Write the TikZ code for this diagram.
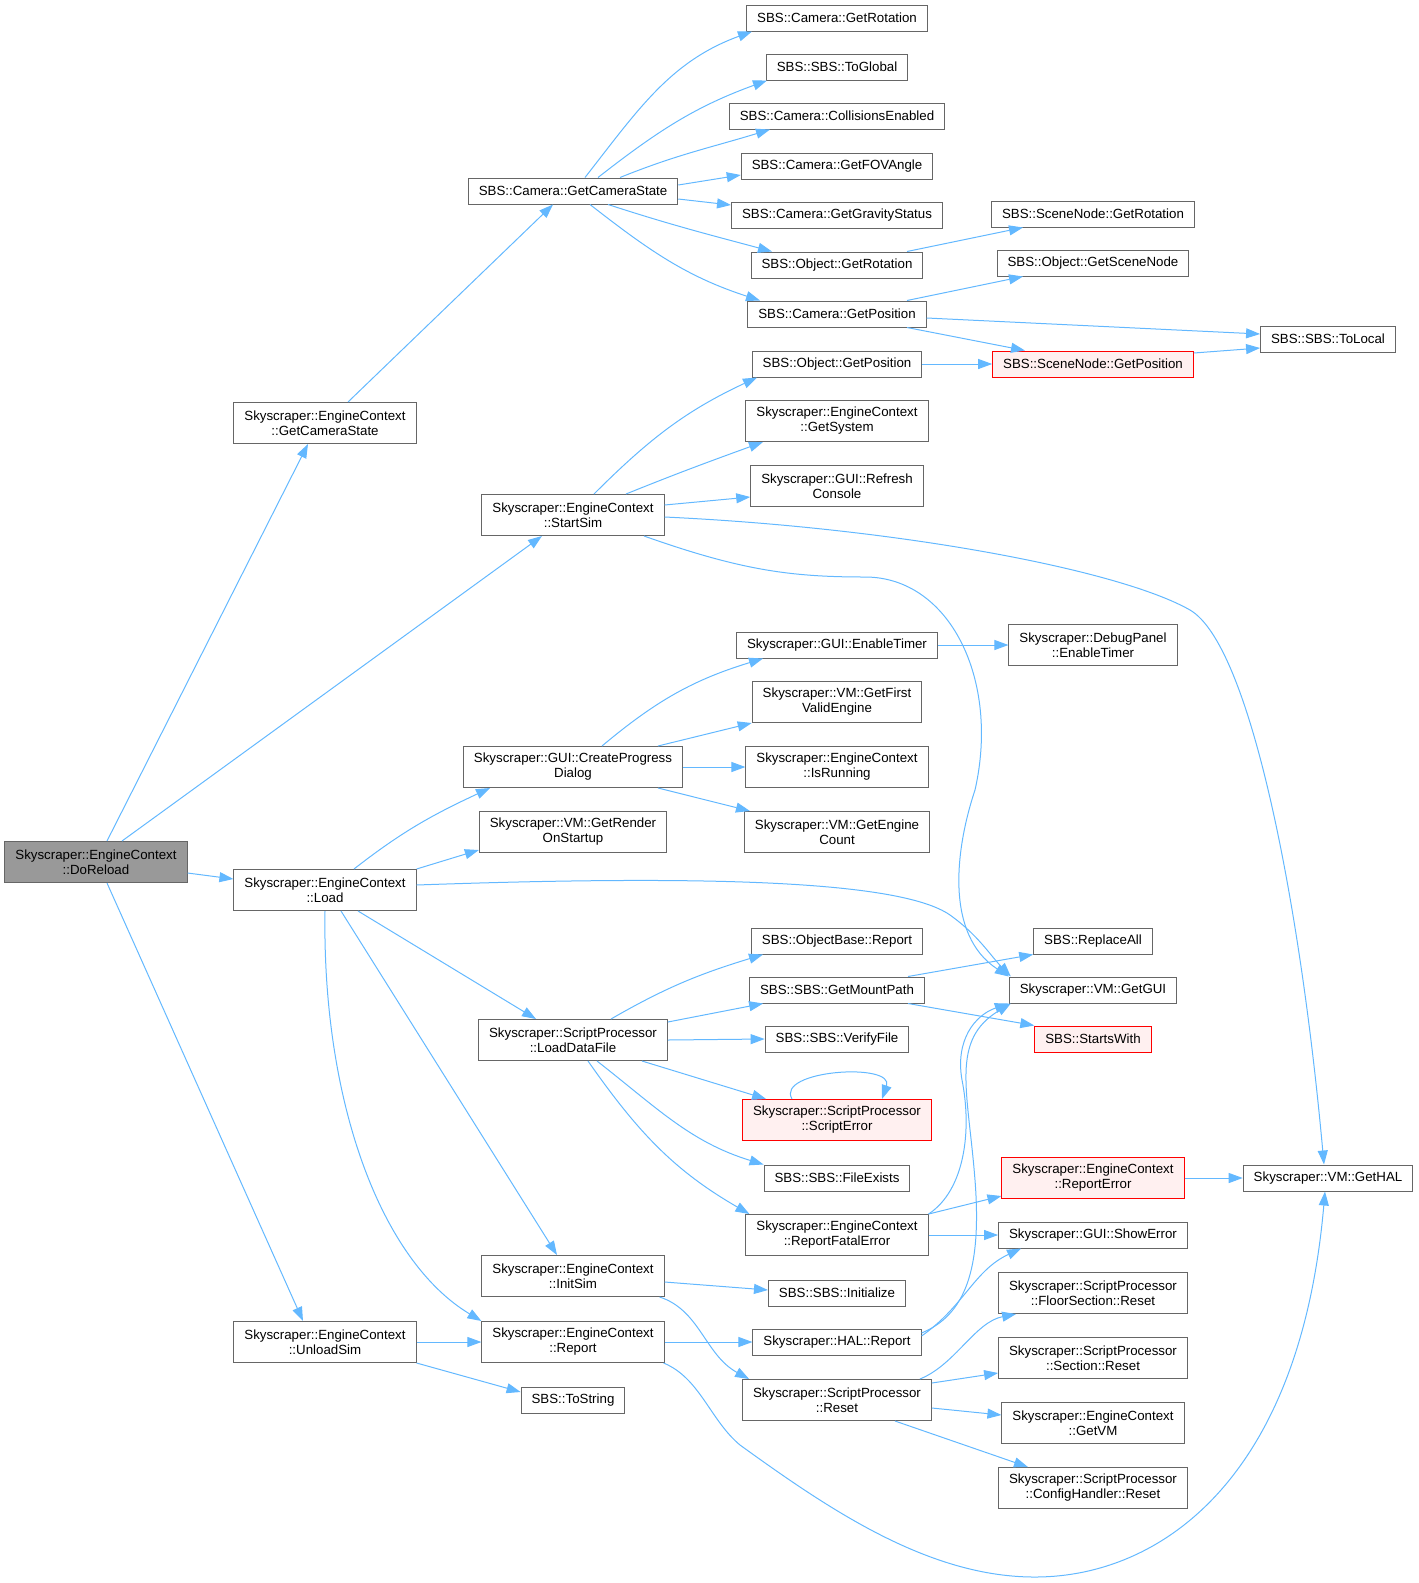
\documentclass[tikz,border=0pt]{standalone}
\usepackage{fontspec}
\setmainfont{Liberation Sans}
\usetikzlibrary{arrows.meta}
\definecolor{callblue}{HTML}{63B8FF}
\definecolor{boxgray}{HTML}{666666}
\definecolor{rootgray}{HTML}{999999}
\definecolor{cutfill}{HTML}{FFF0F0}
\tikzset{
	box/.style={draw=boxgray,fill=white,line width=1pt,align=center,inner xsep=10.5pt,inner ysep=0pt,minimum height=26pt,font=\fontsize{13.3}{15}\selectfont},
	two/.style={box,minimum height=41pt},
	root/.style={two,fill=rootgray},
	cut/.style={draw=red,fill=cutfill},
	call/.style={draw=callblue,line width=1pt,-{Triangle[length=14pt,width=10pt]}}
}
\begin{document}
\begin{tikzpicture}[x=1pt,y=-1pt]
	\useasboundingbox (0,0) rectangle (1419,1583);
	\node[root] (doreload) at (96,862) {Skyscraper::EngineContext\\::DoReload};
	\node[two] (eccam) at (325,423) {Skyscraper::EngineContext\\::GetCameraState};
	\node[two] (load) at (325,890) {Skyscraper::EngineContext\\::Load};
	\node[two] (unloadsim) at (325,1342) {Skyscraper::EngineContext\\::UnloadSim};
	\node[box] (camstate) at (573,191) {SBS::Camera::GetCameraState};
	\node[two] (startsim) at (573,515) {Skyscraper::EngineContext\\::StartSim};
	\node[two] (progress) at (573,767) {Skyscraper::GUI::CreateProgress\\Dialog};
	\node[two] (render) at (573,832) {Skyscraper::VM::GetRender\\OnStartup};
	\node[two] (loaddata) at (573,1040) {Skyscraper::ScriptProcessor\\::LoadDataFile};
	\node[two] (initsim) at (573,1276) {Skyscraper::EngineContext\\::InitSim};
	\node[two] (ecreport) at (573,1342) {Skyscraper::EngineContext\\::Report};
	\node[box] (tostring) at (573,1400) {SBS::ToString};
	\node[box] (camrot) at (837,18) {SBS::Camera::GetRotation};
	\node[box] (toglobal) at (837,67) {SBS::SBS::ToGlobal};
	\node[box] (collisions) at (837,116) {SBS::Camera::CollisionsEnabled};
	\node[box] (fov) at (837,166) {SBS::Camera::GetFOVAngle};
	\node[box] (gravity) at (837,215) {SBS::Camera::GetGravityStatus};
	\node[box] (objrot) at (837,265) {SBS::Object::GetRotation};
	\node[box] (campos) at (837,314) {SBS::Camera::GetPosition};
	\node[box] (objpos) at (837,364) {SBS::Object::GetPosition};
	\node[two] (getsystem) at (837,421) {Skyscraper::EngineContext\\::GetSystem};
	\node[two] (refresh) at (837,486) {Skyscraper::GUI::Refresh\\Console};
	\node[box] (guitimer) at (837,645) {Skyscraper::GUI::EnableTimer};
	\node[two] (firstvalid) at (837,702) {Skyscraper::VM::GetFirst\\ValidEngine};
	\node[two] (isrunning) at (837,767) {Skyscraper::EngineContext\\::IsRunning};
	\node[two] (enginecount) at (837,832) {Skyscraper::VM::GetEngine\\Count};
	\node[box] (obreport) at (837,941) {SBS::ObjectBase::Report};
	\node[box] (mountpath) at (837,990) {SBS::SBS::GetMountPath};
	\node[box] (verifyfile) at (837,1039) {SBS::SBS::VerifyFile};
	\node[two,cut] (scripterror) at (837,1120) {Skyscraper::ScriptProcessor\\::ScriptError};
	\node[box] (fileexists) at (837,1178) {SBS::SBS::FileExists};
	\node[two] (fatalerror) at (837,1235) {Skyscraper::EngineContext\\::ReportFatalError};
	\node[box] (initialize) at (837,1293) {SBS::SBS::Initialize};
	\node[box] (halreport) at (837,1342) {Skyscraper::HAL::Report};
	\node[two] (spreset) at (837,1400) {Skyscraper::ScriptProcessor\\::Reset};
	\node[box] (snrot) at (1093,214) {SBS::SceneNode::GetRotation};
	\node[box] (scenenode) at (1093,263) {SBS::Object::GetSceneNode};
	\node[box,cut] (snpos) at (1093,364) {SBS::SceneNode::GetPosition};
	\node[two] (dptimer) at (1093,645) {Skyscraper::DebugPanel\\::EnableTimer};
	\node[box] (replaceall) at (1093,941) {SBS::ReplaceAll};
	\node[box] (getgui) at (1093,990) {Skyscraper::VM::GetGUI};
	\node[box,cut] (startswith) at (1093,1039) {SBS::StartsWith};
	\node[two,cut] (reporterror) at (1093,1178) {Skyscraper::EngineContext\\::ReportError};
	\node[box] (showerror) at (1093,1235) {Skyscraper::GUI::ShowError};
	\node[two] (floorreset) at (1093,1293) {Skyscraper::ScriptProcessor\\::FloorSection::Reset};
	\node[two] (sectionreset) at (1093,1358) {Skyscraper::ScriptProcessor\\::Section::Reset};
	\node[two] (getvm) at (1093,1423) {Skyscraper::EngineContext\\::GetVM};
	\node[two] (configreset) at (1093,1488) {Skyscraper::ScriptProcessor\\::ConfigHandler::Reset};
	\node[box] (tolocal) at (1328,339) {SBS::SBS::ToLocal};
	\node[box] (gethal) at (1328,1178) {Skyscraper::VM::GetHAL};

	\draw[call] ([xshift=11]doreload.north) -- ([xshift=-17]eccam.south);
	\draw[call] ([xshift=26]doreload.north) -- ([xshift=-31]startsim.south);
	\draw[call] ([yshift=-11]doreload.east) -- ([yshift=11]load.west);
	\draw[call] ([xshift=11]doreload.south) -- ([xshift=-22]unloadsim.north);

	\draw[call] ([xshift=23]eccam.north) -- ([xshift=-20]camstate.south);
	\draw[call] ([xshift=12]camstate.north) to[out=52,in=200] ([xshift=-85]camrot.south);
	\draw[call] ([xshift=25]camstate.north) to[out=38,in=200] ([xshift=-70]toglobal.south);
	\draw[call] ([xshift=47]camstate.north) to[out=22,in=197] ([xshift=-67]collisions.south);
	\draw[call] ([yshift=6]camstate.east) -- ([yshift=-9]fov.west);
	\draw[call] ([yshift=-8]camstate.east) -- ([yshift=10]gravity.west);
	\draw[call] ([xshift=35]camstate.south) to[out=-18,in=165] ([xshift=-65]objrot.north);
	\draw[call] ([xshift=17]camstate.south) to[out=-38,in=162] ([xshift=-77]campos.north);
	\draw[call] ([xshift=70]objrot.north) -- ([xshift=-70]snrot.south);
	\draw[call] ([xshift=70]campos.north) -- ([xshift=-70]scenenode.south);
	\draw[call] ([yshift=-4]campos.east) -- ([yshift=5]tolocal.west);
	\draw[call] ([xshift=70]campos.south) -- ([xshift=-68]snpos.north);
	\draw[call] ([yshift=11]snpos.east) -- ([yshift=-9]tolocal.west);
	\draw[call] (objpos.east) -- (snpos.west);

	\draw[call] ([xshift=21]startsim.north) to[out=45,in=205] ([xshift=-80]objpos.south);
	\draw[call] ([xshift=53]startsim.north) to[out=22,in=200] ([xshift=-74]getsystem.south);
	\draw[call] ([yshift=10]startsim.east) -- ([yshift=-11]refresh.west);
	\draw[call] ([yshift=-2]startsim.east) .. controls (900,528) and (1120,570) .. (1190,610) .. controls (1250,645) and (1300,900) .. ([xshift=-4]gethal.north);
	\draw[call] ([xshift=71]startsim.south) .. controls (740,570) and (790,577) .. (865,577) .. controls (950,577) and (1000,680) .. (975,790) .. controls (955,850) and (945,935) .. (getgui.north west);

	\draw[call] ([xshift=29]load.north) to[out=38,in=205] ([xshift=-83]progress.south);
	\draw[call] (load.north east) -- ([yshift=3]render.south west);
	\draw[call] ([yshift=5]load.east) .. controls (700,875) and (900,880) .. (950,915) .. controls (978,935) and (990,955) .. ([xshift=2]getgui.north west);
	\draw[call] ([xshift=33]load.south) -- ([xshift=-37]loaddata.north);
	\draw[call] ([xshift=16]load.south) -- ([xshift=-16]initsim.north);
	\draw[call] (load.south) .. controls (322,1100) and (380,1260) .. (ecreport.north west);
	\draw[call] (unloadsim.east) -- (ecreport.west);
	\draw[call] (unloadsim.south east) -- ([yshift=8]tostring.west);
	\draw[call] (ecreport.east) -- (halreport.west);
	\draw[call] ([xshift=-1]ecreport.south east) .. controls (700,1378) and (710,1420) .. (740,1445) .. controls (830,1510) and (930,1578) .. (1037,1577) .. controls (1160,1576) and (1300,1480) .. ([xshift=-3]gethal.south);
	\draw[call] ([yshift=-6]initsim.east) -- ([yshift=3]initialize.west);
	\draw[call] ([xshift=-5]initsim.south east) .. controls (700,1310) and (705,1355) .. ([xshift=7]spreset.north west);

	\draw[call] ([xshift=29]progress.north) to[out=40,in=197] ([xshift=-74]guitimer.south);
	\draw[call] ([xshift=85]progress.north) -- (firstvalid.south west);
	\draw[call] (progress.east) -- (isrunning.west);
	\draw[call] ([xshift=85]progress.south) -- ([xshift=6]enginecount.north west);
	\draw[call] (guitimer.east) -- (dptimer.west);

	\draw[call] ([xshift=38]loaddata.north) to[out=30,in=197] ([xshift=-74]obreport.south);
	\draw[call] ([yshift=-3]loaddata.north east) -- ([xshift=14]mountpath.south west);
	\draw[call] (loaddata.east) -- (verifyfile.west);
	\draw[call] ([xshift=69]loaddata.south) -- ([xshift=24]scripterror.north west);
	\draw[call] ([xshift=24]loaddata.south) to[out=-38,in=163] (fileexists.north west);
	\draw[call] ([xshift=15]loaddata.south) to[out=-55,in=150] ([xshift=4]fatalerror.north west);
	\draw[call] ([xshift=-45]scripterror.north) .. controls (775,1070) and (895,1062) .. ([xshift=45]scripterror.north);
	\draw[call] ([xshift=71]mountpath.north) -- (replaceall.south west);
	\draw[call] ([xshift=71]mountpath.south) -- (startswith.north west);

	\draw[call] (fatalerror.north east) -- ([yshift=3]reporterror.south west);
	\draw[call] (fatalerror.east) -- (showerror.west);
	\draw[call] (fatalerror.north east) .. controls (965,1190) and (972,1130) .. (962,1080) .. controls (955,1040) and (975,1015) .. (getgui.south west);
	\draw[call] ([yshift=9]halreport.east) .. controls (965,1315) and (982,1270) .. (975,1180) .. controls (968,1090) and (950,1040) .. ([xshift=2]getgui.south west);
	\draw[call] ([yshift=6]halreport.east) to[out=35,in=205] ([xshift=-72]showerror.south);
	\draw[call] (reporterror.east) -- (gethal.west);

	\draw[call] ([xshift=-12]spreset.north east) .. controls (955,1365) and (975,1322) .. ([xshift=18]floorreset.south west);
	\draw[call] ([yshift=17]spreset.east) -- ([yshift=-15]sectionreset.west);
	\draw[call] ([yshift=-8]spreset.east) -- ([yshift=8]getvm.west);
	\draw[call] ([xshift=58]spreset.south) -- ([xshift=-65]configreset.north);
\end{tikzpicture}
\end{document}
